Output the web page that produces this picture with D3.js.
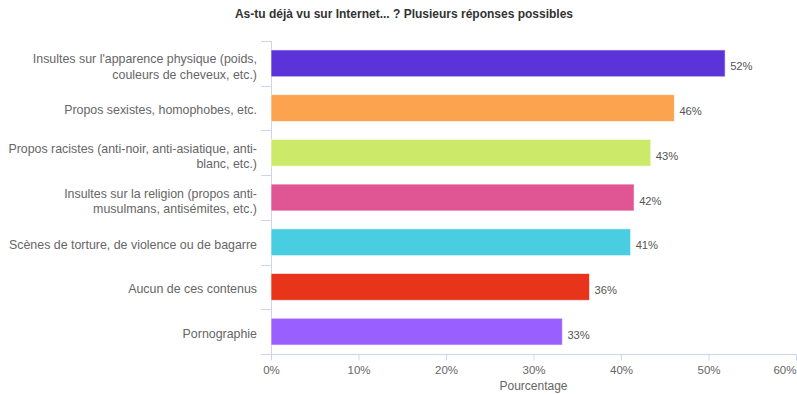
<!DOCTYPE html>
<html>
<head>
<meta charset="utf-8">
<script src="https://cdn.jsdelivr.net/npm/d3@7"></script>
<style>
  html, body { margin: 0; padding: 0; background: #fff; }
  svg { display: block; font-family: "Liberation Sans", Arial, Helvetica, sans-serif; }
</style>
</head>
<body>
<svg id="chart" width="797" height="394"></svg>
<script>
// Survey answers (multiple choice), share of respondents in percent
const categories = [
  "Insultes sur l'apparence physique (poids,\ncouleurs de cheveux, etc.)",
  "Propos sexistes, homophobes, etc.",
  "Propos racistes (anti-noir, anti-asiatique, anti-\nblanc, etc.)",
  "Insultes sur la religion (propos anti-\nmusulmans, antisémites, etc.)",
  "Scènes de torture, de violence ou de bagarre",
  "Aucun de ces contenus",
  "Pornographie"
];
const values = [51.9, 46.1, 43.4, 41.5, 41.1, 36.4, 33.3];
const colors = ["#5b33d9", "#fba34f", "#cde96a", "#e05695", "#49cde0", "#e8341a", "#9a60ff"];
const xTicks = [0, 10, 20, 30, 40, 50, 60];
const titleText = "As-tu déjà vu sur Internet... ? Plusieurs réponses possibles";
const xAxisTitle = "Pourcentage";

const width = 797, height = 394;
const plot = { left: 271, right: 796, top: 41, bottom: 354 };
const axisColor = "#ccd6eb";

const svg = d3.select("#chart");

const x = d3.scaleLinear().domain([0, 60]).range([plot.left, plot.right]);
const y = d3.scaleBand().domain(categories).range([plot.top, plot.bottom])
  .paddingInner(0.4).paddingOuter(0.2);

// Title
svg.append("text")
  .attr("x", 404).attr("y", 18)
  .attr("text-anchor", "middle")
  .attr("font-size", 12).attr("font-weight", "bold")
  .attr("fill", "#333")
  .text(titleText);

// Category axis: line plus tick marks on band boundaries
const catAxis = svg.append("g");
catAxis.append("line")
  .attr("x1", plot.left + 0.5).attr("x2", plot.left + 0.5)
  .attr("y1", plot.top).attr("y2", plot.bottom)
  .attr("stroke", axisColor);
const boundaries = d3.range(categories.length + 1).map(i => plot.top + i * (plot.bottom - plot.top) / categories.length);
catAxis.selectAll("line.tick").data(boundaries).join("line")
  .attr("class", "tick")
  .attr("x1", plot.left - 10).attr("x2", plot.left)
  .attr("y1", d => Math.round(d) + 0.5).attr("y2", d => Math.round(d) + 0.5)
  .attr("stroke", axisColor);

// Category labels (multi-line where needed)
const labels = catAxis.selectAll("text.cat").data(categories).join("text")
  .attr("class", "cat")
  .attr("text-anchor", "end")
  .attr("font-size", 12.4)
  .attr("fill", "#666");
labels.each(function(d) {
  const lines = d.split("\n");
  const cy = y(d) + y.bandwidth() / 2;
  const first = cy + 6.3 - (lines.length - 1) * 6.3;
  d3.select(this).selectAll("tspan").data(lines).join("tspan")
    .attr("x", plot.left - 14)
    .attr("y", (l, i) => first + i * 15.5)
    .text(l => l);
});

// Value axis
const xAxis = d3.axisBottom(x).tickValues(xTicks).tickFormat(d => d + "%").tickSize(6).tickPadding(5);
const xg = svg.append("g")
  .attr("transform", `translate(0,${plot.bottom + 0.5})`)
  .call(xAxis);
xg.select(".domain").attr("stroke", axisColor).attr("d", `M${plot.left},0H${plot.right}`);
xg.selectAll(".tick line").attr("stroke", axisColor);
xg.selectAll(".tick text")
  .attr("fill", "#666")
  .attr("font-size", 11.5)
  .attr("font-family", "Liberation Sans, Arial, sans-serif");
// keep the last tick label inside the drawing area
xg.selectAll(".tick text").filter(d => d === d3.max(xTicks))
  .attr("text-anchor", "end").attr("x", width - 1 - x(d3.max(xTicks)));

svg.append("text")
  .attr("x", (plot.left + plot.right) / 2).attr("y", 390)
  .attr("text-anchor", "middle")
  .attr("font-size", 12).attr("fill", "#666")
  .text(xAxisTitle);

// Bars
svg.append("g").selectAll("rect").data(values).join("rect")
  .attr("x", x(0))
  .attr("y", (v, i) => y(categories[i]))
  .attr("width", v => x(v) - x(0))
  .attr("height", y.bandwidth())
  .attr("fill", (v, i) => colors[i])
  .attr("stroke", "#fff").attr("stroke-opacity", 0.6).attr("stroke-width", 1);

// Value labels
const fmt = d3.format(".0f");
svg.append("g").selectAll("text").data(values).join("text")
  .attr("x", v => x(v) + 5)
  .attr("y", (v, i) => y(categories[i]) + y.bandwidth() / 2 + 7)
  .attr("font-size", 11.2)
  .attr("fill", "#555")
  .text(v => fmt(v) + "%");
</script>
</body>
</html>
